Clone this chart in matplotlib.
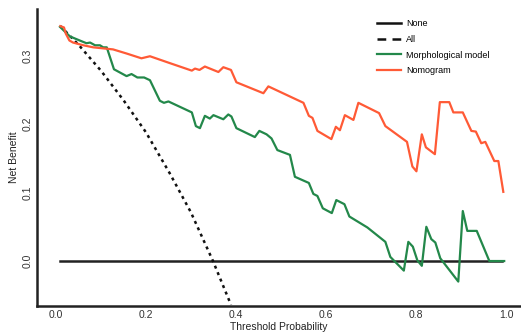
import matplotlib.pyplot as plt
from matplotlib.lines import Line2D

plt.rcParams['font.family'] = ['Liberation Sans', 'DejaVu Sans']

# treat-all curve
all_x = [0.01, 0.05, 0.10, 0.15, 0.20, 0.253, 0.30, 0.349, 0.389]
all_y = [0.343, 0.316, 0.278, 0.235, 0.188, 0.128, 0.071, 0.0, -0.064]

none_x = [0.01, 0.99]
none_y = [0.0, 0.0]

morph_x = [0.009, 0.020, 0.031, 0.053, 0.068, 0.076, 0.087, 0.098, 0.105, 0.113,
           0.129, 0.157, 0.168, 0.181, 0.196, 0.209, 0.231, 0.240, 0.250, 0.302,
           0.311, 0.320, 0.331, 0.342, 0.350, 0.372, 0.383, 0.390, 0.401, 0.442,
           0.452, 0.468, 0.479, 0.492, 0.520, 0.531, 0.562, 0.572, 0.581, 0.593,
           0.613, 0.623, 0.641, 0.652, 0.692, 0.732, 0.743, 0.773, 0.783, 0.793,
           0.803, 0.813, 0.823, 0.834, 0.843, 0.854, 0.894, 0.904, 0.914, 0.935,
           0.963, 0.996]
morph_y = [0.342, 0.335, 0.328, 0.322, 0.318, 0.319, 0.315, 0.315, 0.312, 0.312,
           0.280, 0.270, 0.273, 0.268, 0.268, 0.264, 0.234, 0.231, 0.233, 0.217,
           0.197, 0.194, 0.212, 0.208, 0.213, 0.207, 0.214, 0.211, 0.194, 0.181,
           0.190, 0.185, 0.179, 0.162, 0.155, 0.123, 0.114, 0.098, 0.095, 0.077,
           0.070, 0.089, 0.083, 0.065, 0.049, 0.028, 0.006, -0.014, 0.028, 0.021,
           0.001, -0.007, 0.050, 0.032, 0.027, 0.004, -0.030, 0.073, 0.044, 0.044,
           0.0, 0.0]

nomo_x = [0.010, 0.018, 0.022, 0.030, 0.038, 0.061, 0.083, 0.127, 0.157, 0.190,
          0.209, 0.231, 0.253, 0.302, 0.309, 0.319, 0.331, 0.361, 0.372, 0.389,
          0.401, 0.461, 0.472, 0.550, 0.562, 0.570, 0.581, 0.612, 0.622, 0.631,
          0.642, 0.661, 0.672, 0.718, 0.732, 0.780, 0.792, 0.801, 0.813, 0.822,
          0.842, 0.853, 0.874, 0.883, 0.904, 0.923, 0.933, 0.945, 0.954, 0.974,
          0.983, 0.994]
nomo_y = [0.343, 0.341, 0.332, 0.322, 0.319, 0.315, 0.312, 0.309, 0.303, 0.296,
          0.299, 0.294, 0.289, 0.278, 0.281, 0.279, 0.284, 0.276, 0.283, 0.279,
          0.261, 0.245, 0.255, 0.231, 0.212, 0.209, 0.190, 0.178, 0.196, 0.191,
          0.213, 0.206, 0.231, 0.216, 0.197, 0.174, 0.138, 0.131, 0.185, 0.166,
          0.156, 0.232, 0.232, 0.217, 0.217, 0.190, 0.189, 0.172, 0.174, 0.146,
          0.146, 0.101]

green = '#23884a'
orange = '#ff5a36'

fig = plt.figure(figsize=(5.21, 3.33), dpi=100)
ax = fig.add_axes([0.071, 0.081, 0.927, 0.892])

ax.plot(none_x, none_y, color='#222222', lw=1.8)
ax.plot(all_x, all_y, color='#111111', lw=1.8, linestyle=(0, (1.2, 1.6)))
ax.plot(morph_x, morph_y, color=green, lw=1.6)
ax.plot(nomo_x, nomo_y, color=orange, lw=1.6)

ax.set_xlim(-0.042, 1.031)
ax.set_ylim(-0.0657, 0.368)
ax.set_xticks([0.0, 0.2, 0.4, 0.6, 0.8, 1.0])
ax.set_xticklabels(['0.0', '0.2', '0.4', '0.6', '0.8', '1.0'])
ax.set_yticks([0.0, 0.1, 0.2, 0.3])
ax.set_yticklabels(['0.0', '0.1', '0.2', '0.3'], rotation=90, va='center')
ax.tick_params(length=0, labelsize=7.5, labelcolor='#333333', pad=3)

for s in ['top', 'right']:
    ax.spines[s].set_visible(False)
for s in ['left', 'bottom']:
    ax.spines[s].set_linewidth(1.8)
    ax.spines[s].set_color('#222222')

ax.set_xlabel('Threshold Probability', fontsize=7.5, color='#222222', labelpad=1)
ax.set_ylabel('Net Benefit', fontsize=7.5, color='#222222', labelpad=3)

handles = [
    Line2D([], [], color='#111111', lw=1.8),
    Line2D([], [], color='#111111', lw=1.8, linestyle=(0, (3.5, 2.5))),
    Line2D([], [], color=green, lw=1.6),
    Line2D([], [], color=orange, lw=1.6),
]
labels = ['None', 'All', 'Morphological model', 'Nomogram']
fig.legend(handles, labels, loc='upper left', bbox_to_anchor=(0.724, 0.943),
           frameon=False, fontsize=6.5, handlelength=2.6, handletextpad=0.6,
           labelspacing=0.75, borderpad=0, borderaxespad=0)

fig.savefig('out.png', dpi=100)
